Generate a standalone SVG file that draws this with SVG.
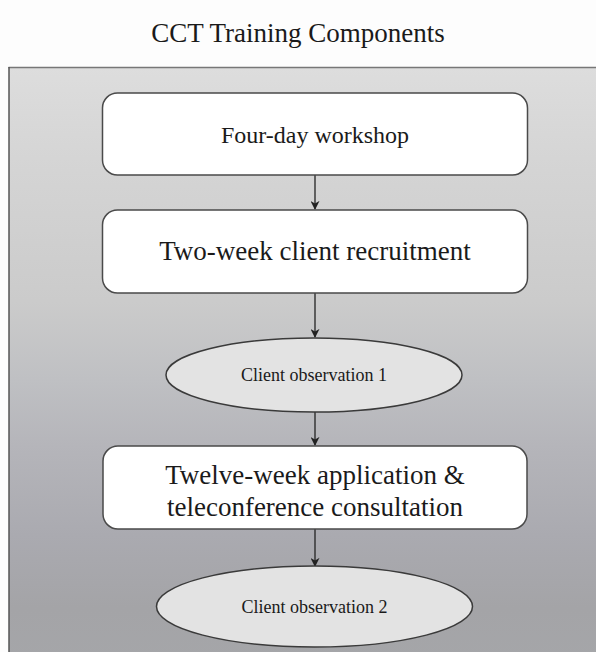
<svg xmlns="http://www.w3.org/2000/svg" width="596" height="652" viewBox="0 0 596 652">
<style>
.box{fill:#ffffff;stroke:#4a4a4a;stroke-width:1.5}
.ell{fill:#e3e3e3;stroke:#3a3a3a;stroke-width:1.5}
.big{font-family:"Liberation Serif","Times New Roman",serif;font-size:27px;fill:#1a1a1a;text-anchor:middle}
.small{font-family:"Liberation Serif","Times New Roman",serif;font-size:18px;fill:#1a1a1a;text-anchor:middle}
.conn line{stroke:#222;stroke-width:1.3}
</style>
<defs>
<linearGradient id="bg" x1="0" y1="0" x2="0" y2="1">
<stop offset="0" stop-color="#dddddd"/>
<stop offset="0.15" stop-color="#d5d5d5"/>
<stop offset="0.39" stop-color="#cbcbcb"/>
<stop offset="0.52" stop-color="#bfc0c3"/>
<stop offset="0.63" stop-color="#b5b5ba"/>
<stop offset="0.78" stop-color="#aaaab0"/>
<stop offset="0.9" stop-color="#a4a4a7"/>
<stop offset="1" stop-color="#a5a6a9"/>
</linearGradient>
<marker id="ah" viewBox="0 0 10 10" refX="9" refY="5" markerWidth="9" markerHeight="9" markerUnits="userSpaceOnUse" orient="auto">
<path d="M0,0 L10,5 L0,10 L3,5 Z" fill="#222"/>
</marker>
</defs>
<rect x="0" y="0" width="596" height="652" fill="#fdfdfd"/>
<text x="298" y="42" font-family="'Liberation Serif','Times New Roman',serif" font-size="27" fill="#1a1a1a" text-anchor="middle">CCT Training Components</text>
<rect x="9" y="67.5" width="600" height="600" fill="url(#bg)"/>
<line x1="8.5" y1="67.5" x2="596" y2="67.5" stroke="#777" stroke-width="1.5"/>
<line x1="9" y1="67" x2="9" y2="652" stroke="#555" stroke-width="1.5"/>
<g class="conn" id="connectors">
<line x1="315" y1="175" x2="315" y2="209" marker-end="url(#ah)"/>
<line x1="315" y1="293" x2="315" y2="337" marker-end="url(#ah)"/>
<line x1="315" y1="412" x2="315" y2="445" marker-end="url(#ah)"/>
<line x1="315" y1="529" x2="315" y2="566" marker-end="url(#ah)"/>
</g>
<g id="n1"><rect class="box" x="102.5" y="93" width="425" height="82" rx="15"/><text class="big" x="315" y="143" style="font-size:24px">Four-day workshop</text></g>
<g id="n2"><rect class="box" x="102.5" y="210" width="425" height="83" rx="15"/><text class="big" x="315" y="260">Two-week client recruitment</text></g>
<g id="n3"><ellipse class="ell" cx="314" cy="375" rx="148" ry="37"/><text class="small" x="314" y="381">Client observation 1</text></g>
<g id="n4"><rect class="box" x="103" y="446" width="424" height="83" rx="15"/><text class="big" x="315" y="484">Twelve-week application &amp;</text><text class="big" x="315" y="516">teleconference consultation</text></g>
<g id="n5"><ellipse class="ell" cx="314.5" cy="606.5" rx="158" ry="40.5"/><text class="small" x="314.5" y="613">Client observation 2</text></g>
</svg>
